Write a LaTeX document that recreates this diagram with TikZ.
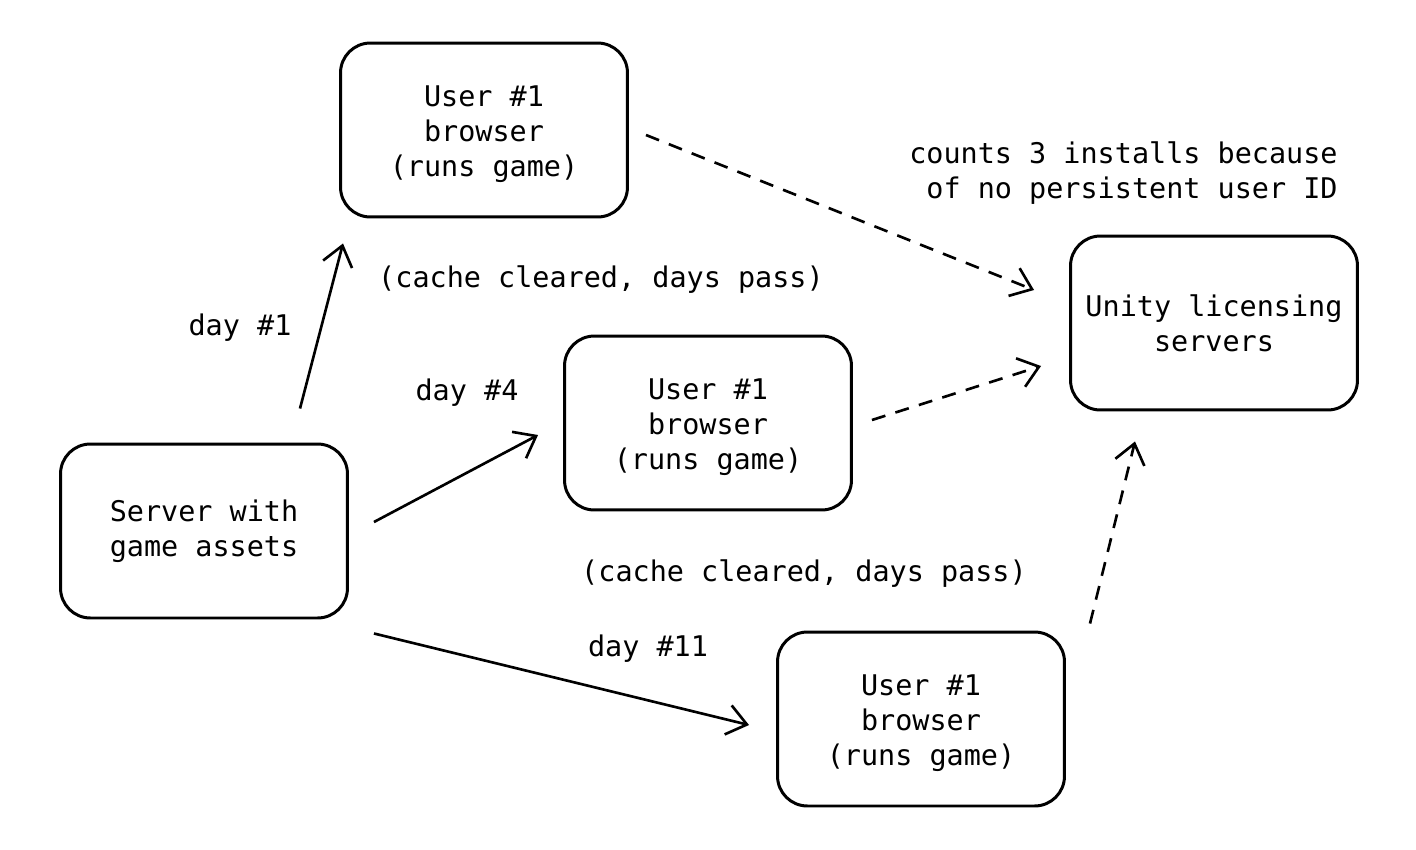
\documentclass[tikz,border=0pt]{standalone}
\usepackage{fontspec}
\setmonofont{DejaVu Sans Mono}
\usetikzlibrary{arrows.meta,calc}
\newcommand{\tpstrut}{\rule{0pt}{16.5pt}}
\begin{document}
\begin{tikzpicture}[x=0.02cm,y=-0.02cm,
  txt/.style={font=\ttfamily\fontsize{16.2}{19.8}\selectfont, align=center, inner sep=0pt},
  box/.style={txt, draw, line width=1.7pt, rounded corners=17pt, minimum width=5.74cm, minimum height=3.48cm},
  arr/.style={line width=1.5pt, -{Straight Barb[length=11pt,width=17pt,line width=1.5pt]}},
  darr/.style={arr, dash pattern=on 8pt off 6pt}]
\useasboundingbox (0,0) rectangle (1416,849);
\node[box] (ua) at (484,130) {\tpstrut User \#1\\browser\\(runs game)};
\node[box] (ub) at (708,423) {\tpstrut User \#1\\browser\\(runs game)};
\node[box] (uc) at (921,719) {\tpstrut User \#1\\browser\\(runs game)};
\node[box] (srv) at (204,531) {Server with\\game assets};
\node[box] (uni) at (1214,323) {Unity licensing\\servers};
\node[txt] (d1) at (240,328) {day \#1};
\node[txt] (d4) at (467,393) {day \#4};
\node[txt] (d11) at (648,649) {day \#11};
\node[txt] (c1) at (601,280) {(cache cleared, days pass)};
\node[txt] (c2) at (804,574) {(cache cleared, days pass)};
\node[txt, align=right, anchor=east] (cnt) at (1338,173) {counts 3 installs because\\of no persistent user ID};
\draw[arr] ($(srv.north)+(96,-34)$) -- ($(ua.south)+(-141,25)$);
\draw[arr] ($(srv.east)+(25,-9)$) -- ($(ub.west)+(-25,12)$);
\draw[arr] ($(srv.south east)+(25,14)$) -- ($(uc.west)+(-27,6)$);
\draw[darr] ($(ua.east)+(17,5)$) -- ($(uni.west)+(-35,-33)$);
\draw[darr] ($(ub.east)+(19,-3)$) -- ($(uni.west)+(-28,43)$);
\draw[darr] ($(uc.north)+(169,-7)$) -- ($(uni.south)+(-79,30)$);
\end{tikzpicture}
\end{document}
